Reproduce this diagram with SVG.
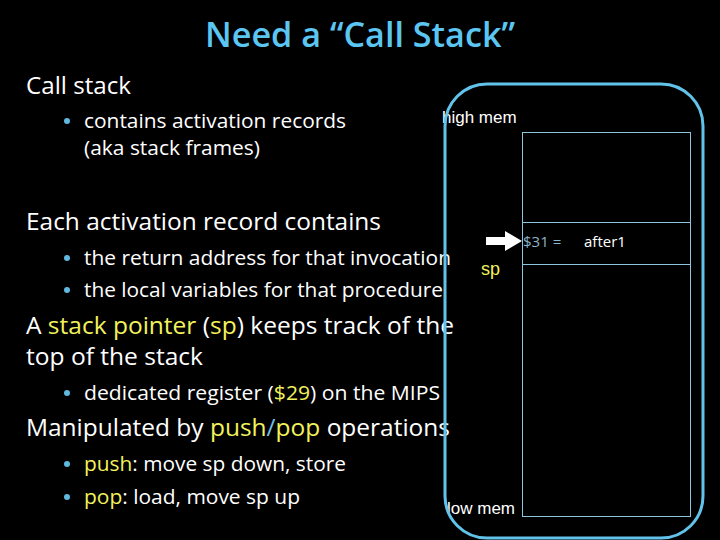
<svg xmlns="http://www.w3.org/2000/svg" width="720" height="540" viewBox="0 0 720 540">
<style>
.t{font-family:"Open Sans","Liberation Sans",sans-serif;fill:#fff}
.h{font-size:24px}
.s{font-size:20px}
.y{fill:#f2f25c}
.b{fill:#6fbfe6}
.a{font-family:"Liberation Sans",Arial,sans-serif;fill:#fff;font-size:17px}
.dot{fill:#5fb8e0}
</style>
<rect width="720" height="540" fill="#000"/>
<text x="360" y="47" text-anchor="middle" font-family="'Open Sans','Liberation Sans',sans-serif" font-weight="600" font-size="35" fill="#5cc6f2" textLength="310" lengthAdjust="spacingAndGlyphs">Need a “Call Stack”</text>
<g id="text">
<text class="t h" x="26" y="94" textLength="105" lengthAdjust="spacingAndGlyphs">Call stack</text>
<circle class="dot" cx="67" cy="121" r="3"/>
<text class="t s" x="84" y="128" textLength="262" lengthAdjust="spacingAndGlyphs">contains activation records</text>
<text class="t s" x="84" y="155" textLength="176" lengthAdjust="spacingAndGlyphs">(aka stack frames)</text>
<text class="t h" x="26" y="230" textLength="355" lengthAdjust="spacingAndGlyphs">Each activation record contains</text>
<circle class="dot" cx="67" cy="258" r="3"/>
<text class="t s" x="84" y="265" textLength="367" lengthAdjust="spacingAndGlyphs">the return address for that invocation</text>
<circle class="dot" cx="67" cy="290" r="3"/>
<text class="t s" x="84" y="297" textLength="359" lengthAdjust="spacingAndGlyphs">the local variables for that procedure</text>
<text class="t h" x="26" y="334" textLength="428" lengthAdjust="spacingAndGlyphs">A <tspan class="y">stack pointer</tspan> (<tspan class="y">sp</tspan>) keeps track of the</text>
<text class="t h" x="26" y="365" textLength="177" lengthAdjust="spacingAndGlyphs">top of the stack</text>
<circle class="dot" cx="67" cy="393" r="3"/>
<text class="t s" x="84" y="400" textLength="356" lengthAdjust="spacingAndGlyphs">dedicated register (<tspan class="y">$29</tspan>) on the MIPS</text>
<text class="t h" x="26" y="436" textLength="424" lengthAdjust="spacingAndGlyphs">Manipulated by <tspan class="y">push</tspan><tspan class="b">/</tspan><tspan class="y">pop</tspan> operations</text>
<circle class="dot" cx="67" cy="464" r="3"/>
<text class="t s" x="84" y="471" textLength="262" lengthAdjust="spacingAndGlyphs"><tspan class="y">push</tspan>: move sp down, store</text>
<circle class="dot" cx="67" cy="497" r="3"/>
<text class="t s" x="84" y="504" textLength="216" lengthAdjust="spacingAndGlyphs"><tspan class="y">pop</tspan>: load, move sp up</text>
</g>
<g id="memory">
<text class="a" x="442" y="123">high mem</text>
<text class="a" x="447" y="514">low mem</text>
<rect x="445" y="84" width="258" height="454" rx="42" ry="42" fill="none" stroke="#62c3ea" stroke-width="3"/>
<rect x="522.5" y="132.5" width="168" height="384" fill="none" stroke="#8cc6dc" stroke-width="1"/>
<line x1="522" y1="222.5" x2="691" y2="222.5" stroke="#8cc6dc" stroke-width="1"/>
<line x1="522" y1="264.5" x2="691" y2="264.5" stroke="#8cc6dc" stroke-width="1"/>
<text x="523" y="247" font-family="'Open Sans','Liberation Sans',sans-serif" font-size="15" fill="#8fb3c8">$31 =</text>
<text x="584" y="247" font-family="'Open Sans','Liberation Sans',sans-serif" font-size="15" fill="#fff">after1</text>
<text x="481" y="275" font-family="'Liberation Sans',Arial,sans-serif" font-size="18" fill="#f2f25c">sp</text>
</g>
<g id="connectors">
<polygon points="486,237 505,237 505,231 522,241 505,251 505,245 486,245" fill="#fff"/>
</g>
</svg>
